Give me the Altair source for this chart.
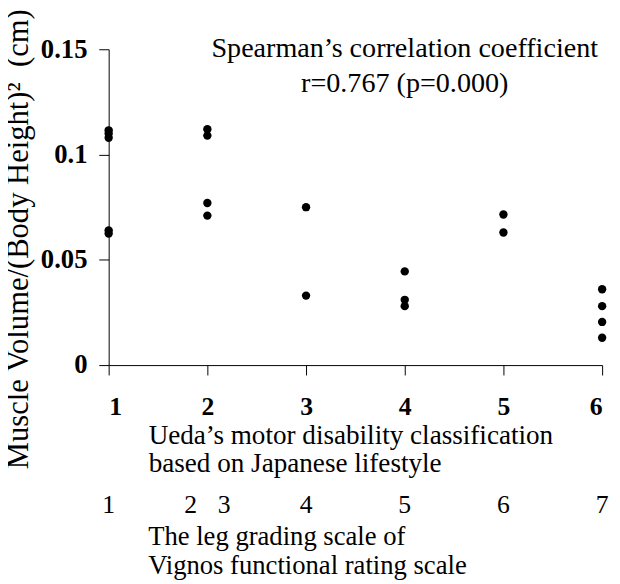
import altair as alt
import pandas as pd

# ---- data ----
ueda_grade = [1, 1, 1, 1, 1,
              2, 2, 2, 2,
              3, 3,
              4, 4, 4,
              5, 5,
              6, 6, 6, 6]
muscle_vol = [0.1115, 0.110, 0.108, 0.064, 0.0625,
              0.112, 0.109, 0.077, 0.071,
              0.075, 0.033,
              0.0445, 0.031, 0.028,
              0.0715, 0.063,
              0.036, 0.028, 0.0205, 0.013]

x_ticks = [1, 2, 3, 4, 5, 6]
y_ticks = [0, 0.05, 0.1, 0.15]

vignos_labels = ["1", "2", "3", "4", "5", "6", "7"]
vignos_pos = [1, 1.83, 2.17, 3, 4, 5, 6]

x_title = ["Ueda\u2019s motor disability classification", "based on Japanese lifestyle"]
y_title = "Muscle Volume/(Body Height)\u00b2\u00a0\u00a0(cm)"
vignos_title = "The leg grading scale of\nVignos functional rating scale"
note_text = "Spearman\u2019s correlation coefficient\nr=0.767 (p=0.000)"

FONT = "Liberation Serif"

pts = pd.DataFrame({"ueda": ueda_grade, "vol": muscle_vol})
vig = pd.DataFrame({"ueda": vignos_pos, "label": vignos_labels})
one = pd.DataFrame({"k": [0]})

x_scale = alt.Scale(domain=[1, 6], nice=False, zero=False)
y_scale = alt.Scale(domain=[0, 0.15], nice=False)

x_axis = alt.Axis(values=x_ticks, format="d", title=x_title,
                  titleAlign="left", titleAnchor="start", titleX=40, titleY=79,
                  titleBaseline="alphabetic", titleLineHeight=28.5,
                  titleFont=FONT, labelFont=FONT,
                  titleFontSize=27.5, titleFontWeight="normal",
                  labelFontSize=26, labelFontWeight="bold",
                  labelPadding=19, tickSize=10)

points = alt.Chart(pts).mark_circle(size=72, color="black", opacity=1).encode(
    x=alt.X("ueda:Q", scale=x_scale, axis=x_axis),
    y=alt.Y("vol:Q", scale=y_scale,
            axis=alt.Axis(values=y_ticks, labelExpr="format(datum.value, '.2~f')",
                          title=y_title,
                          titleAngle=270, titleX=-82, titleY=192,
                          titleBaseline="alphabetic", titleFontSize=31,
                          titleFont=FONT, labelFont=FONT,
                          titleFontWeight="normal",
                          labelFontSize=27, labelFontWeight="bold",
                          labelPadding=12, tickSize=10)),
)

vig_nums = alt.Chart(vig).mark_text(font=FONT, fontSize=26, baseline="alphabetic",
                                    align="center", color="black").encode(
    x=alt.X("ueda:Q", scale=x_scale, axis=x_axis),
    y=alt.value(470),
    text="label:N",
)

vig_title = alt.Chart(one).mark_text(font=FONT, fontSize=27, baseline="alphabetic",
                                     align="left", lineBreak="\n", lineHeight=30,
                                     color="black").encode(
    x=alt.value(40), y=alt.value(502), text=alt.value(vignos_title)
)

note = alt.Chart(one).mark_text(font=FONT, fontSize=28.5, baseline="alphabetic",
                                align="center", lineBreak="\n", lineHeight=35,
                                color="black").encode(
    x=alt.value(300), y=alt.value(8), text=alt.value(note_text)
)

chart = alt.layer(points, vig_nums, vig_title, note).properties(
    width=500, height=320,
    padding={"left": 102, "top": 38, "right": 10, "bottom": 218},
    autosize=alt.AutoSizeParams(type="none"),
).configure(font=FONT).configure_view(stroke=None).configure_axis(
    grid=False, domainColor="black", tickColor="black", labelColor="black",
    titleColor="black", labelFont=FONT, titleFont=FONT, domainWidth=1, tickWidth=1,
)

chart.save("out.html", embed_options={"renderer": "svg", "actions": False})
